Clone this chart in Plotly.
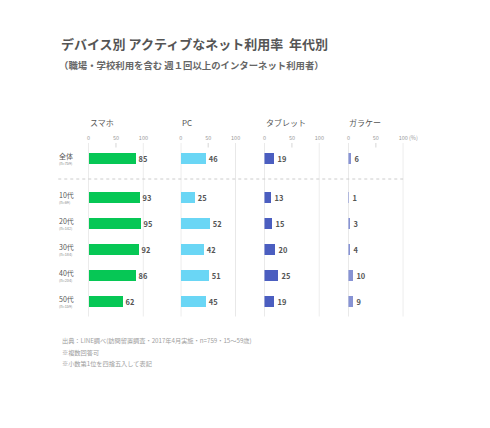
import plotly.graph_objects as go

# ---- data ----
groups = ["全体", "10代", "20代", "30代", "40代", "50代"]
sample_sizes = ["(n=759)", "(n=69)", "(n=142)", "(n=184)", "(n=204)", "(n=159)"]
devices = ["スマホ", "PC", "タブレット", "ガラケー"]
smartphone = [85, 93, 95, 92, 86, 62]
pc = [46, 25, 52, 42, 51, 45]
tablet = [19, 13, 15, 20, 25, 19]
feature_phone = [6, 1, 3, 4, 10, 9]
tick_values = [0, 50, 100]
tick_labels = ["0", "50", "100"]
colors = ["#06c755", "#6ad6f5", "#4b5ec0", "#8793d4"]
title = "デバイス別 アクティブなネット利用率  年代別"
subtitle = "（職場・学校利用を含む 週１回以上のインターネット利用者）"
notes = ["出典：LINE調べ(訪問留置調査・2017年4月実施・n=759・15〜59歳)",
         "※複数回答可",
         "※小数第1位を四捨五入して表記"]

OFF = 8  # page body margin
W, H = 490 - 2 * OFF, 428 - 2 * OFF
FONT = "Noto Sans CJK JP"


def px(x):
    return (x - OFF) / W


def py(y):
    return 1 - (y - OFF) / H


# layout geometry (screen pixels)
row_pitch = 26.0
row0 = 158.3 - OFF
# row positions: gap of an extra half row after the "全体" row
rows = [i + (0.5 if i > 0 else 0) for i in range(len(groups))]
y_top = -row0 / row_pitch
y_bot = (H - row0) / row_pitch
panel_x0 = [87.7, 181.3, 266.3, 351.5]
panel_w = 55.7

series = [smartphone, pc, tablet, feature_phone]

fig = go.Figure()
for k, vals in enumerate(series):
    ax = "x" if k == 0 else f"x{k+1}"
    fig.add_trace(go.Bar(
        x=vals, y=rows, orientation="h",
        xaxis=ax, yaxis="y",
        marker=dict(color=colors[k], line=dict(width=0)),
        width=0.43,
        text=[str(v) for v in vals], textposition="outside",
        textfont=dict(family=FONT, size=9.5, color="#555555", weight="bold"),
        cliponaxis=False, hoverinfo="skip", showlegend=False,
    ))

layout = dict(
    width=W, height=H,
    margin=dict(l=0, r=0, t=0, b=0),
    paper_bgcolor="white", plot_bgcolor="rgba(0,0,0,0)",
    font=dict(family=FONT, color="#555555"),
    bargap=0,
    yaxis=dict(domain=[0, 1], range=[y_bot, y_top], visible=False,
               fixedrange=True),
)
for k in range(4):
    key = "xaxis" if k == 0 else f"xaxis{k+1}"
    x0 = panel_x0[k]
    layout[key] = dict(
        domain=[px(x0), px(x0 + panel_w)], range=[0, 100],
        anchor="free", position=py(141), side="top",
        showgrid=False, zeroline=False, showline=False,
        tickvals=tick_values, ticktext=tick_labels,
        ticks="", tickfont=dict(family=FONT, size=5.5, color="#999999"),
        fixedrange=True,
    )
fig.update_layout(**layout)

shapes = []
annotations = []
for k in range(4):
    xr = "x" if k == 0 else f"x{k+1}"
    for v in (0, 100):
        shapes.append(dict(type="line", xref=xr, yref="paper",
                           x0=v, x1=v, y0=py(316.5), y1=py(143),
                           line=dict(color="#d6d6d6", width=1), layer="below"))
    shapes.append(dict(type="line", xref=xr, yref="paper",
                       x0=50, x1=50, y0=py(147.5), y1=py(143),
                       line=dict(color="#d6d6d6", width=1), layer="below"))
    annotations.append(dict(text=devices[k], xref="paper", yref="paper",
                            x=px(panel_x0[k] - 1), y=py(122.7),
                            xanchor="left", yanchor="middle", showarrow=False,
                            font=dict(family=FONT, size=8, color="#555555")))

# percent unit next to the last panel's 100
annotations.append(dict(text="(%)", xref="x4", yref="paper", x=100, y=py(138),
                        xanchor="left", yanchor="middle", xshift=4,
                        showarrow=False,
                        font=dict(family=FONT, size=5.5, color="#999999")))

# dotted separator between the total row and age rows
shapes.append(dict(type="line", xref="paper", yref="paper",
                   x0=px(57), x1=px(407), y0=py(179), y1=py(179),
                   line=dict(color="#cccccc", width=1, dash="dot")))

# row labels
for g, n, r in zip(groups, sample_sizes, rows):
    annotations.append(dict(text=g, xref="paper", yref="y", x=px(57), y=r,
                            xanchor="left", yanchor="middle", yshift=2.5,
                            showarrow=False, borderpad=0,
                            font=dict(family=FONT, size=7, color="#555555")))
    annotations.append(dict(text=n, xref="paper", yref="y", x=px(57), y=r,
                            xanchor="left", yanchor="middle", yshift=-5,
                            showarrow=False, borderpad=0,
                            font=dict(family=FONT, size=3.8, color="#888888")))

# title and subtitle
annotations.append(dict(text=title, xref="paper", yref="paper",
                        x=px(58), y=py(44), xanchor="left", yanchor="middle",
                        showarrow=False,
                        font=dict(family=FONT, size=13, color="#555555",
                                  weight="bold")))
annotations.append(dict(text=subtitle, xref="paper", yref="paper",
                        x=px(56), y=py(65), xanchor="left", yanchor="middle",
                        showarrow=False,
                        font=dict(family=FONT, size=9.4, color="#666666",
                                  weight="bold")))

# notes
for t, yy in zip(notes, [340, 352, 363.5]):
    annotations.append(dict(text=t, xref="paper", yref="paper",
                            x=px(58.5), y=py(yy), xanchor="left",
                            yanchor="middle", showarrow=False,
                            font=dict(family=FONT, size=6.2, color="#a0a0a0")))

fig.update_layout(shapes=shapes, annotations=annotations)
fig.write_html("out.html")
